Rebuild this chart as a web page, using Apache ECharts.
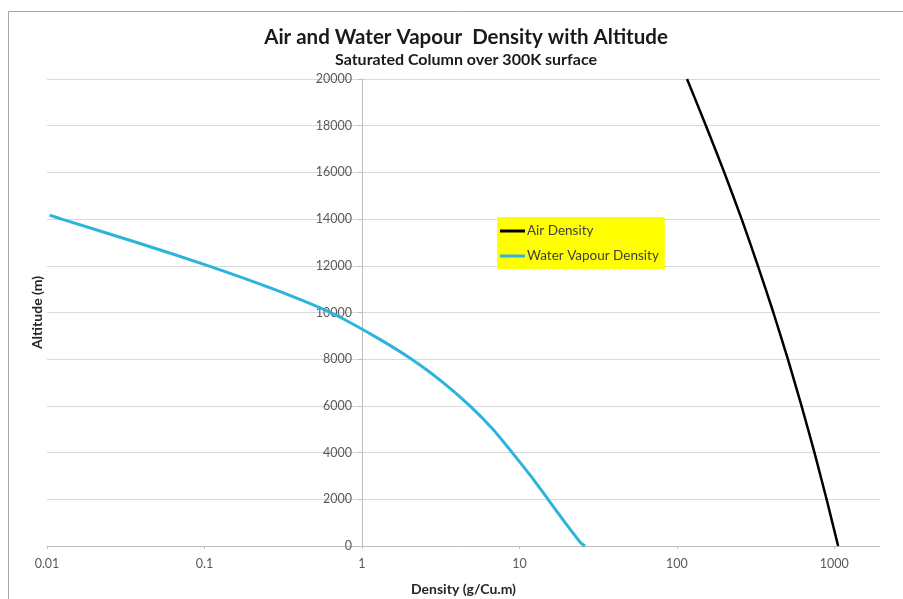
<!DOCTYPE html>
<html>
<head>
<meta charset="utf-8">
<script src="https://cdn.jsdelivr.net/npm/echarts@6/dist/echarts.min.js"></script>
<style>
html,body{margin:0;padding:0;background:#fff;}
#chart{width:903px;height:599px;}
</style>
</head>
<body>
<div id="chart"></div>
<script>
// Data (density g/m^3, altitude m)
const airAltitude = [0, 2000, 4000, 6000, 8000, 10000, 12000, 14000, 16000, 18000, 20000];
const airDensity  = [1057, 893, 748, 619, 507, 410, 327, 258, 200, 153, 116];

const vapourAltitude = [0, 150, 1000, 1500, 2000, 3000, 4000, 5000, 6000, 7000, 8000, 9000, 10000, 11000, 12000, 13000, 14000, 14170];
const vapourDensity  = [26.1, 24.4, 19.5, 17.2, 15.2, 11.8, 9.0, 6.79, 4.85, 3.28, 2.07, 1.19, 0.631, 0.275, 0.106, 0.0372, 0.0124, 0.0104];

const yTicks = [0, 2000, 4000, 6000, 8000, 10000, 12000, 14000, 16000, 18000, 20000];
const xTickLabels = ['0.01', '0.1', '1', '10', '100', '1000'];

const titleText = 'Air and Water Vapour  Density with Altitude';
const subtitleText = 'Saturated Column over 300K surface';
const seriesNames = ['Air Density', 'Water Vapour Density'];

const airData = airAltitude.map((a, i) => [airDensity[i], a]);
const vapourData = vapourAltitude.map((a, i) => [vapourDensity[i], a]);

const FONT = 'Lato, "Open Sans", sans-serif';
const chart = echarts.init(document.getElementById('chart'), null, {renderer: 'canvas'});
chart.setOption({
  backgroundColor: '#ffffff',
  animation: false,
  graphic: [{
    type: 'rect', shape: {x: 8.5, y: 11.5, width: 900, height: 600},
    style: {fill: 'none', stroke: '#a6a6a6', lineWidth: 1}, silent: true, z: -1
  }],
  title: [{
    text: titleText, left: 461, top: 22, textAlign: 'center',
    textStyle: {fontFamily: FONT, fontSize: 20.5, fontWeight: 'bold', color: '#1a1a1a'}
  }, {
    text: subtitleText, left: 461, top: 47, textAlign: 'center',
    textStyle: {fontFamily: FONT, fontSize: 16, fontWeight: 'bold', color: '#1a1a1a'}
  }],
  legend: {
    data: seriesNames, orient: 'vertical', left: 497, top: 217,
    backgroundColor: '#ffff00', padding: [7, 6, 6, 3], itemGap: 11,
    itemWidth: 25, itemHeight: 3, icon: 'rect', itemStyle: {borderWidth: 0},
    textStyle: {fontFamily: FONT, fontSize: 13.5, color: '#404040', padding: [0, 0, 0, -3]}
  },
  grid: {left: 47, right: 23, top: 79, bottom: 53, containLabel: false, outerBoundsMode: 'none'},
  xAxis: {
    type: 'log', logBase: 10, min: 0.01, max: 1950,
    name: 'Density (g/Cu.m)', nameLocation: 'middle', nameGap: 36,
    nameTextStyle: {fontFamily: FONT, fontSize: 14, fontWeight: 'bold', color: '#262626'},
    axisLine: {show: true, lineStyle: {color: '#bfbfbf', width: 1}},
    axisTick: {show: true, length: 3, inside: false, lineStyle: {color: '#bfbfbf'}},
    axisLabel: {
      fontFamily: FONT, fontSize: 12.5, color: '#595959', margin: 11, showMaxLabel: false,
      formatter: function (v) {
        const e = Math.round(Math.log10(v));
        const idx = e + 2;
        return (Math.abs(Math.log10(v) - e) < 1e-6 && idx >= 0 && idx < xTickLabels.length) ? xTickLabels[idx] : '';
      }
    },
    splitLine: {show: false}
  },
  yAxis: {
    type: 'value', min: yTicks[0], max: yTicks[yTicks.length - 1], interval: yTicks[1] - yTicks[0],
    position: 'left', offset: -315,
    name: 'Altitude (m)', nameLocation: 'middle', nameGap: 318, nameRotate: 90,
    nameTextStyle: {fontFamily: FONT, fontSize: 14, fontWeight: 'bold', color: '#262626'},
    axisLine: {show: true, lineStyle: {color: '#bfbfbf', width: 1}},
    axisTick: {show: true, length: 4, lineStyle: {color: '#bfbfbf'}},
    axisLabel: {fontFamily: FONT, fontSize: 12.5, color: '#595959', margin: 10,
      formatter: function (v) { return String(v); }},
    splitLine: {show: true, lineStyle: {color: '#d9d9d9', width: 1}}
  },
  series: [{
    name: seriesNames[0], type: 'line', data: airData, symbol: 'none', smooth: 0.2,
    lineStyle: {color: '#000000', width: 2.5}, itemStyle: {color: '#000000'}
  }, {
    name: seriesNames[1], type: 'line', data: vapourData, symbol: 'none', smooth: 0.2,
    lineStyle: {color: '#2cb4dd', width: 3}, itemStyle: {color: '#2cb4dd'}
  }]
});
</script>
</body>
</html>
